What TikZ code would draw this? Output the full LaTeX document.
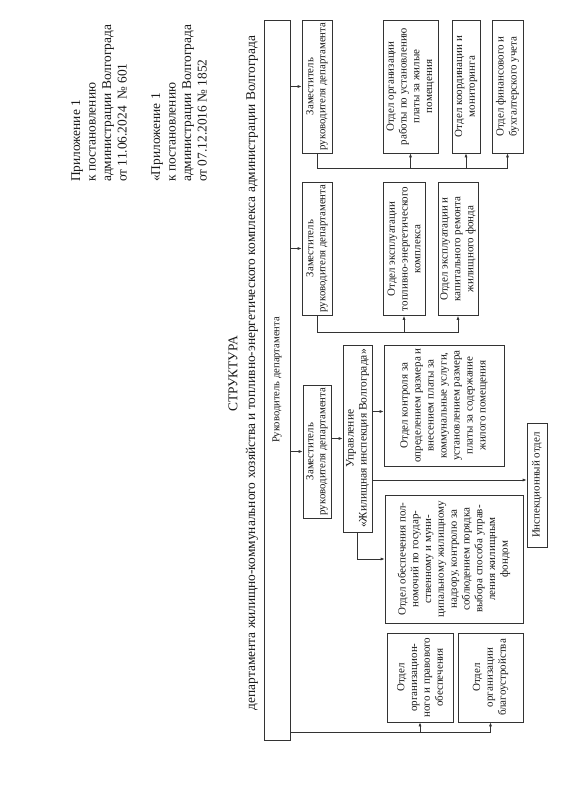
\documentclass[tikz,border=0pt]{standalone}
\usepackage{fontspec}
\setmainfont{Liberation Serif}
\usetikzlibrary{arrows.meta}
\begin{document}
\begin{tikzpicture}[x=1pt,y=-1pt,
  box/.style={draw=black!80, line width=0.7pt, rotate=90, align=center, inner sep=1pt, text=black!90, font=\fontsize{11}{12.8}\selectfont},
  zbox/.style={box, font=\fontsize{10.8}{12}\selectfont},
  hdr/.style={rotate=90, anchor=north west, align=left, inner sep=0pt, text=black!90, font=\fontsize{13.4}{15.5}\selectfont},
  ttl/.style={rotate=90, inner sep=0pt, text=black!90, font=\fontsize{13.4}{15}\selectfont},
  ln/.style={draw=black!80, line width=0.7pt},
  arr/.style={ln, -{Latex[length=4pt,width=3pt]}}]
\useasboundingbox[fill=white] (0,0) rectangle (570,805);

% header
\node[hdr] (hdrA) at (71,182) {Приложение 1\\к постановлению\\администрации Волгограда\\от 11.06.2024~~№ 601};
\node[hdr] (hdrB) at (151,182) {«Приложение 1\\к постановлению\\администрации Волгограда\\от 07.12.2016 № 1852};

% title
\node[ttl] (t1) at (233,374) {СТРУКТУРА};
\node[ttl] (t2) at (252,373) {департамента жилищно-коммунального хозяйства и топливно-энергетического комплекса администрации Волгограда};

% main box
\node[box, font=\fontsize{10.6}{12}\selectfont, minimum width=720pt, minimum height=26pt] (main) at (277,380) {Руководитель департамента};

% deputies
\node[zbox, minimum width=133pt, minimum height=30pt] (Z3) at (317,86.5) {Заместитель\\руководителя департамента};
\node[zbox, minimum width=133pt, minimum height=30pt] (Z2) at (317,248.5) {Заместитель\\руководителя департамента};
\node[zbox, minimum width=133pt, minimum height=28pt] (Z1) at (317,451.5) {Заместитель\\руководителя департамента};

% column of Z3
\node[box, minimum width=133pt, minimum height=55pt] (Opl) at (410.5,86.5) {Отдел организации\\работы по установлению\\платы за жилые\\помещения};
\node[box, minimum width=133pt, minimum height=28pt] (Oko) at (466,86.5) {Отдел координации и\\мониторинга};
\node[box, minimum width=133pt, minimum height=31pt] (Ofi) at (507.5,86.5) {Отдел финансового и\\бухгалтерского учета};

% column of Z2
\node[box, minimum width=133pt, minimum height=42pt] (Ote) at (404,249) {Отдел эксплуатации\\топливно-энергетического\\комплекса};
\node[box, minimum width=133pt, minimum height=40pt] (Oka) at (458,249) {Отдел эксплуатации и\\капитального ремонта\\жилищного фонда};

% column of Z1
\node[box, font=\fontsize{11.5}{13}\selectfont, minimum width=187pt, minimum height=29pt] (Upr) at (357.5,438.5) {Управление\\«Жилищная инспекция Волгограда»};
\node[box, font=\fontsize{11}{13}\selectfont, minimum width=121pt, minimum height=120pt] (Okn) at (444,405.5) {Отдел контроля за\\определением размера и\\внесением платы за\\коммунальные услуги,\\установлением размера\\платы за содержание\\жилого помещения};
\node[box, minimum width=124pt, minimum height=20pt] (Ins) at (537,485) {Инспекционный отдел};
\node[box, minimum width=128pt, minimum height=138pt] (Oob) at (454,559) {Отдел обеспечения пол-\\номочий по государ-\\ственному и муни-\\ципальному жилищному\\надзору, контролю за\\соблюдением порядка\\выбора способа управ-\\ления жилищным\\фондом};

% bottom boxes
\node[box, minimum width=89pt, minimum height=66pt] (Oor) at (420,677.5) {Отдел\\организацион-\\ного и правового\\обеспечения};
\node[box, minimum width=89pt, minimum height=65pt] (Obl) at (490.5,677.5) {Отдел\\организации\\благоустройства};

% connectors from main
\draw[arr] (main.south |- Z3.north) -- (Z3.north);
\draw[arr] (main.south |- Z2.north) -- (Z2.north);
\draw[arr] (main.south |- Z1.north) -- (Z1.north);
\coordinate (mb) at ([yshift=8pt]main.south west);
\draw[arr] (mb) -| (Obl.west);
\draw[arr] (mb -| Oor.west) -- (Oor.west);

% Z3 branch
\draw[arr] (Z3.west) -- ++(0,15) coordinate (b3) -| (Ofi.west);
\draw[arr] (b3 -| Opl.west) -- (Opl.west);
\draw[arr] (b3 -| Oko.west) -- (Oko.west);

% Z2 branch
\draw[arr] (Z2.west) -- ++(0,17) coordinate (b2) -| (Oka.west);
\draw[arr] (b2 -| Ote.west) -- (Ote.west);

% Z1 branch
\draw[arr] (Z1.south |- Upr.north) -- (Upr.north);
\draw[arr] ([yshift=-6pt]Upr.south |- Okn.north) -- ([yshift=-6pt]Okn.north);
\draw[arr] ([yshift=5pt]Upr.south |- Ins.north) -- ([yshift=5pt]Ins.north);
\draw[arr] (Upr.west) |- (Oob.north);
\end{tikzpicture}
\end{document}
